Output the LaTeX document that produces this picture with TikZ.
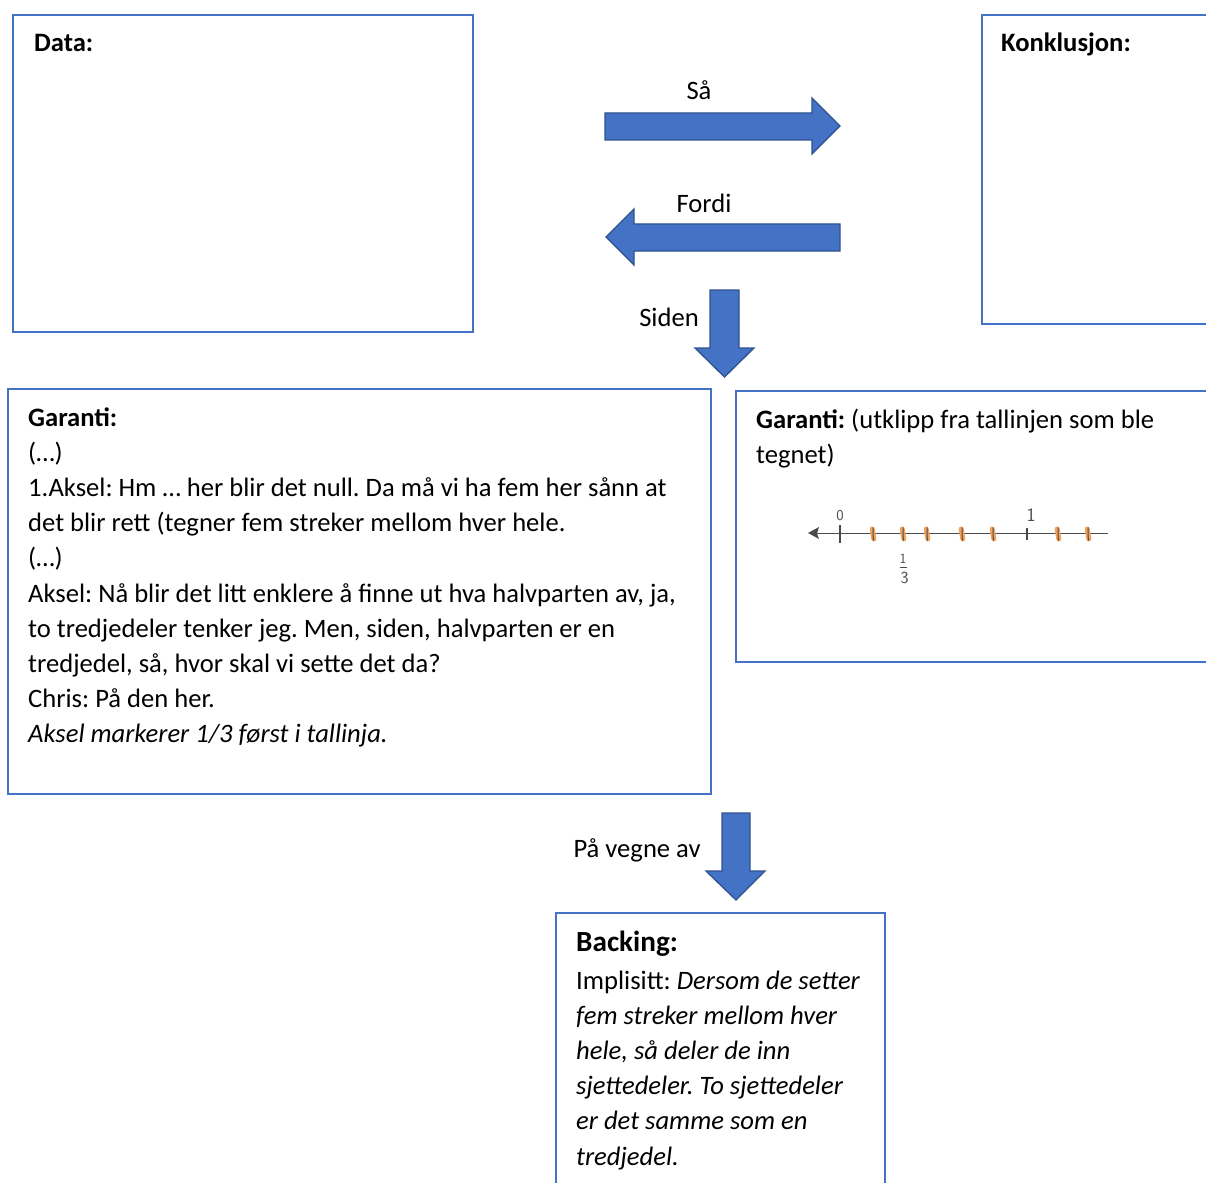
\documentclass[tikz,border=0pt]{standalone}
\usepackage{fontspec}
\setmainfont{Carlito}
\frenchspacing
\definecolor{boxblue}{HTML}{4472C4}
\definecolor{arrowedge}{HTML}{2F528F}
\definecolor{pencil}{HTML}{4A4A4A}
\definecolor{marker}{HTML}{F2A25A}
\begin{document}
\frenchspacing
\begin{tikzpicture}[x=1pt,y=-1pt,
  panel/.style={draw=boxblue, line width=2pt, fill=white, inner sep=0pt, anchor=north west},
  blockarrow/.style={fill=boxblue, draw=arrowedge, line width=1.3pt, line join=miter},
  body/.style={font=\fontsize{26.6}{35.2}\selectfont, inner sep=0pt, align=left, anchor=base west},
  arrowlabel/.style={font=\fontsize{26.6}{30}\selectfont, inner sep=0pt, anchor=base},
  sketch/.style={pencil, line width=1.1pt},
  orangemark/.style={marker, line width=5pt, line cap=round},
  sketchlabel/.style={pencil, font=\fontsize{19}{19}\selectfont\sffamily, inner sep=0pt}]
\useasboundingbox (0,0) rectangle (1206,1182);
\clip (0,0) rectangle (1206,1182);

% panels of the argument model
\node[panel, minimum width=460pt, minimum height=317pt] (data) at (12,14) {};
\node[panel, minimum width=260pt, minimum height=309pt] (konkl) at (981,14) {};
\node[panel, minimum width=703pt, minimum height=405pt] (garanti) at (7,388) {};
\node[panel, minimum width=490pt, minimum height=271pt] (garantib) at (735,390) {};
\node[panel, minimum width=329pt, minimum height=300pt] (backing) at (555,912) {};

% panel texts (multi-line nodes are placed by the baseline of their last line)
\node[body] (datatxt) at (34,52) {\textbf{Data:}};
\node[body] (konkltxt) at (1001,52) {\textbf{Konklusjon:}};
\node[body] (garantitxt) at (28,742.8) {\textbf{Garanti:}\\
(…)\\
1.Aksel: Hm … her blir det null. Da må vi ha fem her sånn at\\
det blir rett (tegner fem streker mellom hver hele.\\
(…)\\
Aksel: Nå blir det litt enklere å finne ut hva halvparten av, ja,\\
to tredjedeler tenker jeg. Men, siden, halvparten er en\\
tredjedel, så, hvor skal vi sette det da?\\
Chris: På den her.\\
\textit{Aksel markerer 1/3 først i tallinja.}};
\node[body] (garantibtxt) at (756,463.2) {\textbf{Garanti:} (utklipp fra tallinjen som ble\\tegnet)};
\node[body, font=\fontsize{29.2}{35}\selectfont] (backinghead) at (576,951) {\textbf{Backing:}};
\node[body] (backingtxt) at (576,1165) {Implisitt: \textit{Dersom de setter}\\
\textit{fem streker mellom hver}\\
\textit{hele, så deler de inn}\\
\textit{sjettedeler. To sjettedeler}\\
\textit{er det samme som en}\\
\textit{tredjedel.}};

% block arrows between the panels
\draw[blockarrow] (605,113) -- (812,113) -- (812,98) -- (840,126) -- (812,154) -- (812,140) -- (605,140) -- cycle;
\draw[blockarrow] (840,224) -- (634,224) -- (634,209) -- (606,237) -- (634,265) -- (634,251) -- (840,251) -- cycle;
\draw[blockarrow] (710,290) -- (739,290) -- (739,348) -- (754,348) -- (724.5,377) -- (695,348) -- (710,348) -- cycle;
\draw[blockarrow] (722,813) -- (750,813) -- (750,871) -- (765,871) -- (736,900) -- (706,871) -- (722,871) -- cycle;
\node[arrowlabel] (saa) at (699,100) {Så};
\node[arrowlabel] (fordi) at (704,213) {Fordi};
\node[arrowlabel] (siden) at (669,326) {Siden};
\node[arrowlabel] (paavegne) at (637,857) {På vegne av};

% hand-drawn number line
\draw[sketch] (812,533.5) -- (1108,533.5);
\fill[pencil] (808,533) -- (819,527) -- (817,533.5) -- (819,539) -- cycle;
\foreach \t in {873,903,927,962,993,1058,1088}{
  \draw[orangemark] (\t-0.8,529) -- (\t+0.8,539);
  \draw[sketch, line width=1pt] (\t,527.5) -- (\t+0.3,540.5);
}
\draw[sketch] (840,525) -- (840,543);
\draw[sketch] (1027,528) -- (1027,540);
\node[sketchlabel, font=\fontsize{15}{15}\selectfont\sffamily] (nolllabel) at (840,516) {0};
\node[sketchlabel] (enlabel) at (1031,515) {1};
\node[sketchlabel, font=\fontsize{14}{14}\selectfont\sffamily] (tellerlabel) at (903,559) {1};
\draw[sketch, line width=0.9pt] (899.5,567.5) -- (907,567.5);
\node[sketchlabel, font=\fontsize{17}{17}\selectfont\sffamily] (nevnerlabel) at (904.5,578) {3};
\end{tikzpicture}
\end{document}
